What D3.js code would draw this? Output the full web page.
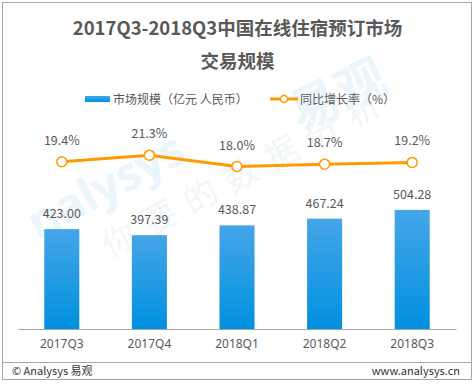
<!DOCTYPE html>
<html>
<head>
<meta charset="utf-8">
<script src="https://cdn.jsdelivr.net/npm/d3@7"></script>
<style>
  body { margin: 0; background: #fff; }
  svg text { font-family: "Noto Sans CJK SC", "Noto Sans", sans-serif; }
</style>
</head>
<body>
<div id="viz"></div>
<script>
const width = 475;
const height = 384;

// chart data
const quarters = ['2017Q3', '2017Q4', '2018Q1', '2018Q2', '2018Q3'];
const marketSize = [423.00, 397.39, 438.87, 467.24, 504.28];
const growthRate = [19.4, 21.3, 18.0, 18.7, 19.2];
const titleLines = ['2017Q3-2018Q3中国在线住宿预订市场', '交易规模'];
const legendLabels = ['市场规模（亿元 人民币）', '同比增长率（%）'];

const textColor = '#595959';
const orange = '#FF9A00';

const svg = d3.select('#viz')
  .append('svg')
    .attr('width', width)
    .attr('height', height);

// bar gradient
const defs = svg.append('defs');
const grad = defs.append('linearGradient')
  .attr('id', 'barGrad')
  .attr('x1', 0).attr('y1', 0).attr('x2', 0).attr('y2', 1);
grad.append('stop').attr('offset', '0%').attr('stop-color', '#45A6E8');
grad.append('stop').attr('offset', '100%').attr('stop-color', '#0090DF');

// frame
svg.append('rect')
  .attr('x', 2.5).attr('y', 2.5)
  .attr('width', 469).attr('height', 377)
  .attr('fill', '#fff')
  .attr('stroke', '#A6A6A6');

// watermark (faint)
const wm = svg.append('g').attr('pointer-events', 'none');
wm.append('text')
  .attr('transform', 'translate(38,240) rotate(-28)')
  .attr('font-size', 46).attr('font-weight', 'bold')
  .attr('fill', '#EAF5FC')
  .style('font-family', '"Open Sans", sans-serif')
  .text('nalysys');
wm.append('text')
  .attr('transform', 'translate(300,132) rotate(-25)')
  .attr('font-size', 50).attr('font-weight', 'bold')
  .attr('fill', '#EAF5FC')
  .text('易观');
wm.append('text')
  .attr('transform', 'translate(110,258) rotate(-28)')
  .attr('font-size', 34)
  .attr('letter-spacing', 12)
  .attr('fill', '#F3F6F9')
  .text('你要的数据分析');

// title
svg.append('g')
  .selectAll('text')
  .data(titleLines)
  .join('text')
    .attr('x', width / 2)
    .attr('y', (d, i) => 35 + i * 33)
    .attr('text-anchor', 'middle')
    .attr('font-size', 18.5)
    .attr('font-weight', 'bold')
    .attr('fill', textColor)
    .text(d => d);

// legend
const legend = svg.append('g');
legend.append('rect')
  .attr('x', 85).attr('y', 96)
  .attr('width', 25).attr('height', 6)
  .attr('fill', 'url(#barGrad)');
legend.append('text')
  .attr('x', 113).attr('y', 103.5)
  .attr('font-size', 12).attr('fill', textColor)
  .text(legendLabels[0]);
legend.append('line')
  .attr('x1', 270).attr('x2', 298)
  .attr('y1', 99).attr('y2', 99)
  .attr('stroke', orange).attr('stroke-width', 3);
legend.append('circle')
  .attr('cx', 284).attr('cy', 99).attr('r', 3.5)
  .attr('fill', '#fff').attr('stroke', orange).attr('stroke-width', 1.5);
legend.append('text')
  .attr('x', 300).attr('y', 103.5)
  .attr('font-size', 12).attr('fill', textColor)
  .text(legendLabels[1]);

// scales
const scaleX = d3.scaleBand()
  .domain(quarters)
  .range([18, 456])
  .paddingInner(0.6)
  .paddingOuter(0.3);

const scaleY = d3.scaleLinear()
  .domain([0, 600])
  .range([329, 329 - 600 / 4.235]);

const scaleRate = d3.scaleLinear()
  .domain([15, 25])
  .range([176.9, 142.4]);

// bars
const bars = svg.append('g').attr('class', 'bars');
bars.selectAll('rect')
  .data(marketSize)
  .join('rect')
    .attr('x', (d, i) => scaleX(quarters[i]))
    .attr('y', d => scaleY(d))
    .attr('width', scaleX.bandwidth())
    .attr('height', d => scaleY(0) - scaleY(d))
    .attr('fill', 'url(#barGrad)');
bars.selectAll('text')
  .data(marketSize)
  .join('text')
    .attr('x', (d, i) => scaleX(quarters[i]) + scaleX.bandwidth() / 2)
    .attr('y', d => scaleY(d) - 11)
    .attr('text-anchor', 'middle')
    .attr('font-size', 12.5)
    .attr('fill', textColor)
    .text(d => d.toFixed(2));

// x axis
const axisBottom = d3.axisBottom(scaleX).tickSize(0).tickPadding(10);
const xAxis = svg.append('g')
  .attr('transform', 'translate(0,329)')
  .call(axisBottom);
xAxis.select('.domain').attr('stroke', '#A6A6A6');
xAxis.selectAll('text')
  .attr('font-size', 12)
  .attr('fill', textColor)
  .style('font-family', '"Noto Sans", sans-serif');

// growth line
const cx = (d, i) => scaleX(quarters[i]) + scaleX.bandwidth() / 2;
const line = d3.line()
  .x(cx)
  .y(d => scaleRate(d));
const rateG = svg.append('g').attr('class', 'rate');
rateG.append('path')
  .datum(growthRate)
  .attr('d', line)
  .attr('fill', 'none')
  .attr('stroke', orange)
  .attr('stroke-width', 3);
rateG.selectAll('circle')
  .data(growthRate)
  .join('circle')
    .attr('cx', cx)
    .attr('cy', d => scaleRate(d))
    .attr('r', 5)
    .attr('fill', '#fff')
    .attr('stroke', orange)
    .attr('stroke-width', 1.5);
rateG.selectAll('text')
  .data(growthRate)
  .join('text')
    .attr('x', cx)
    .attr('y', d => scaleRate(d) - 17)
    .attr('text-anchor', 'middle')
    .attr('font-size', 12.5)
    .attr('fill', textColor)
    .text(d => d.toFixed(1) + '%');

// footer
svg.append('line')
  .attr('x1', 3).attr('x2', 471)
  .attr('y1', 362.5).attr('y2', 362.5)
  .attr('stroke', '#A6A6A6');
svg.append('text')
  .attr('x', 12).attr('y', 374.5)
  .attr('font-size', 11).attr('fill', '#333')
  .text('© Analysys 易观');
svg.append('text')
  .attr('x', 460).attr('y', 374.5)
  .attr('text-anchor', 'end')
  .attr('font-size', 11).attr('fill', '#333')
  .text('www.analysys.cn');
</script>
</body>
</html>
